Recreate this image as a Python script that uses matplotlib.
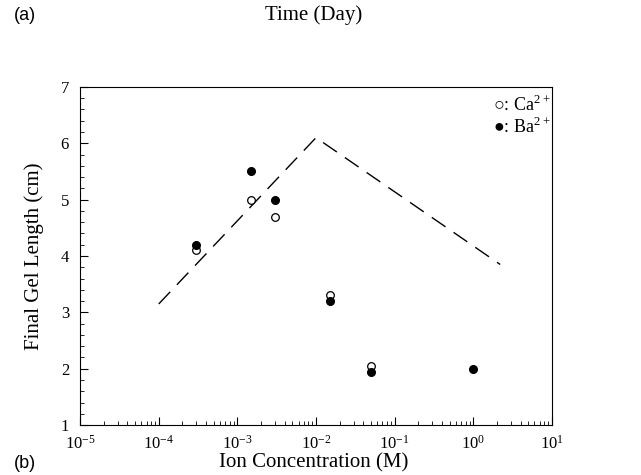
from matplotlib import pyplot as plt
from matplotlib.ticker import MultipleLocator, LogLocator, NullFormatter
import numpy as np

plt.rcParams['font.family'] = ['Liberation Serif', 'DejaVu Serif']
plt.rcParams['mathtext.fontset'] = 'custom'
plt.rcParams['mathtext.rm'] = 'Liberation Serif'

# data
conc_ca = [3e-4, 1.5e-3, 3e-3, 1.5e-2, 5e-2]
len_ca = [4.1, 5.0, 4.7, 3.3, 2.05]
conc_ba = [3e-4, 1.5e-3, 3e-3, 1.5e-2, 5e-2, 1.0]
len_ba = [4.2, 5.5, 5.0, 3.2, 1.95, 2.0]
# dashed guide line
conc_fit = [1e-4, 1e-2, 2.2]
len_fit = [3.15, 6.1, 3.85]

fig = plt.figure(figsize=(6.41, 4.75), dpi=100)
ax = fig.add_axes([0.125, 0.105, 0.736, 0.712])

ax.plot(conc_fit, len_fit, color='black', lw=1.0, dashes=(12, 7))
ax.plot(conc_ca, len_ca, 'o', mfc='white', mec='black', mew=0.9, ms=5.5, ls='none')
ax.plot(conc_ba, len_ba, 'o', mfc='black', mec='black', ms=5.5, ls='none')

ax.set_xscale('log')
ax.set_xlim(1e-5, 10)
ax.set_ylim(1, 7)
ax.yaxis.set_major_locator(MultipleLocator(1))
ax.yaxis.set_minor_locator(MultipleLocator(0.2))
ax.xaxis.set_major_locator(LogLocator(base=10, numticks=10))
ax.xaxis.set_minor_locator(LogLocator(base=10, subs=np.arange(2, 10), numticks=20))
ax.xaxis.set_minor_formatter(NullFormatter())
ax.tick_params(which='both', direction='in', top=False, right=False, labelsize=12)
ax.tick_params(which='major', length=6, width=0.8)
ax.tick_params(which='minor', length=3, width=0.6)
ax.tick_params(axis='x', pad=7)
ax.tick_params(axis='y', pad=8)
for s in ax.spines.values():
    s.set_linewidth(0.8)

ax.set_ylabel('Final Gel Length (cm)', fontsize=15, labelpad=12)

ax.text(0.875, 0.975, '\u25cb: Ca$^{2+}$', transform=ax.transAxes, fontsize=13,
        ha='left', va='top', family=['Liberation Serif', 'DejaVu Sans'])
ax.text(0.875, 0.91, '\u25cf: Ba$^{2+}$', transform=ax.transAxes, fontsize=13,
        ha='left', va='top', family=['Liberation Serif', 'DejaVu Sans'])

fig.text(0.022, 0.968, '(a)', fontsize=13, family='Liberation Sans', va='center')
fig.text(0.49, 0.968, 'Time (Day)', fontsize=15, ha='center', va='center')
fig.text(0.022, 0.025, '(b)', fontsize=13, family='Liberation Sans', va='center')
fig.text(0.49, 0.025, 'Ion Concentration (M)', fontsize=15, ha='center', va='center')

plt.savefig('out.png', dpi=100)
